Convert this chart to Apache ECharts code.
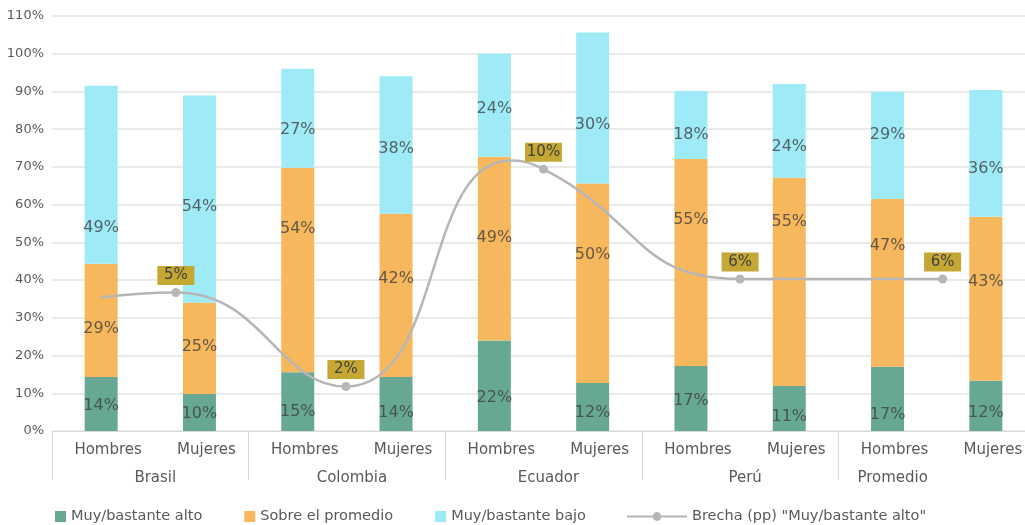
<!DOCTYPE html>
<html>
<head>
<meta charset="utf-8">
<script src="https://cdn.jsdelivr.net/npm/echarts@6/dist/echarts.min.js"></script>
<style>
  html, body { margin: 0; padding: 0; background: #fff; overflow: hidden; }
  /* el área de trazado sigue más allá del borde derecho, como en el original */
  #chart { width: 1035px; height: 525px; }
</style>
</head>
<body>
<div id="chart"></div>
<script>
// categorías (dos niveles)
const categories = ['Hombres', 'Mujeres', 'Hombres', 'Mujeres', 'Hombres', 'Mujeres', 'Hombres', 'Mujeres', 'Hombres', 'Mujeres'];
const countries = ['Brasil', 'Colombia', 'Ecuador', 'Perú', 'Promedio'];

// alturas de los segmentos (%)
const altoVals = [14.3, 9.8, 15.6, 14.3, 24.0, 12.7, 17.2, 11.9, 17.0, 13.3];
const sobreVals = [30.0, 24.2, 54.2, 43.3, 48.7, 52.9, 54.9, 55.2, 44.5, 43.5];
const bajoVals = [47.2, 54.9, 26.2, 36.4, 27.3, 40.0, 18.0, 24.9, 28.4, 33.6];

// etiquetas mostradas y dónde aparecen (en % del eje)
const altoPct = [14, 10, 15, 14, 22, 12, 17, 11, 17, 12];
const sobrePct = [29, 25, 54, 42, 49, 50, 55, 55, 47, 43];
const bajoPct = [49, 54, 27, 38, 24, 30, 18, 24, 29, 36];
const altoLabelY = [6.7, 4.5, 5.1, 4.7, 8.7, 4.7, 8.0, 3.8, 4.4, 4.7];
const sobreLabelY = [27.0, 22.4, 53.6, 40.3, 51.3, 46.7, 56.0, 55.5, 49.0, 39.6];
const bajoLabelY = [53.8, 59.5, 79.8, 74.8, 85.3, 81.2, 78.5, 75.4, 78.5, 69.5];

// brecha (línea suavizada); x en unidades de categoría
const brechaX = [0, 0.76, 2.49, 4.16, 4.5, 6.5, 8.56];
const brechaY = [35.4, 36.7, 11.8, 71.7, 69.4, 40.3, 40.3];
const brechaText = ['', '5%', '2%', '', '10%', '6%', '6%'];

const yTicks = { min: 0, max: 110, interval: 10 };

const FONT = 'DejaVu Sans';
const GREEN = '#67a894';
const ORANGE = '#f7b75c';
const CYAN = '#9eebf7';
const GRAY_LINE = '#b6b6b6';
const LABEL_BG = '#c5a734';
const TXT = '#595959';

const names = ['Muy/bastante alto', 'Sobre el promedio', 'Muy/bastante bajo', 'Brecha (pp) "Muy/bastante alto"'];

const chart = echarts.init(document.getElementById('chart'));

const barSeries = (name, data, color) => ({
  name,
  type: 'bar',
  stack: 'total',
  data,
  barWidth: 33,
  itemStyle: { color },
  emphasis: { disabled: true },
  xAxisIndex: 0,
  yAxisIndex: 0
});

const labelSeries = (pct, ys) => ({
  type: 'scatter',
  xAxisIndex: 0,
  yAxisIndex: 0,
  symbolSize: 0,
  silent: true,
  z: 5,
  data: ys.map((y, i) => [i, y, pct[i]]),
  label: {
    show: true,
    position: 'inside',
    formatter: (p) => p.value[2] + '%',
    color: '#404040',
    fontSize: 16,
    fontFamily: FONT
  }
});

const brechaData = brechaX.map((x, i) => {
  const t = brechaText[i];
  return {
    value: [x, brechaY[i], t],
    symbol: t ? 'circle' : 'none',
    label: { show: !!t }
  };
});

const legendText = { color: TXT, fontSize: 14.5, fontFamily: FONT };

const option = {
  animation: false,
  textStyle: { fontFamily: FONT },
  grid: { left: 52, top: 16, right: 0, bottom: 94 },
  legend: [
    {
      data: names.slice(0, 3),
      left: 55,
      top: 509,
      padding: 0,
      icon: 'rect',
      itemWidth: 11,
      itemHeight: 11,
      itemGap: 42,
      textStyle: legendText
    },
    {
      data: [names[3]],
      left: 626,
      top: 509,
      padding: 0,
      itemWidth: 60,
      itemHeight: 11,
      textStyle: legendText
    }
  ],
  xAxis: [
    {
      type: 'category',
      data: categories,
      position: 'bottom',
      axisLine: { lineStyle: { color: '#d9d9d9', width: 1 } },
      axisTick: { show: false },
      axisLabel: { color: TXT, fontSize: 15, fontFamily: FONT, margin: 12, padding: [0, 0, 0, 14] }
    },
    {
      type: 'category',
      data: countries,
      position: 'bottom',
      offset: 0,
      axisLine: { show: false },
      axisTick: { show: true, length: 49, lineStyle: { color: '#d9d9d9' } },
      axisLabel: {
        color: TXT,
        fontSize: 15,
        fontFamily: FONT,
        margin: 40,
        padding: [0, 0, 0, 10],
        // la última etiqueta queda centrada en la parte visible del grupo
        formatter: (v, i) => (i === countries.length - 1 ? '{last|' + v + '}' : v),
        rich: { last: { color: TXT, fontSize: 15, fontFamily: FONT, padding: [0, 98, 0, 0] } }
      }
    },
    {
      type: 'value',
      min: -0.5,
      max: 9.5,
      show: false
    }
  ],
  yAxis: {
    type: 'value',
    min: yTicks.min,
    max: yTicks.max,
    interval: yTicks.interval,
    axisLine: { show: false },
    axisTick: { show: false },
    splitLine: { lineStyle: { color: '#e3e3e3', width: 1.5 } },
    axisLabel: {
      formatter: '{value}%',
      color: TXT,
      fontSize: 13,
      fontFamily: FONT,
      margin: 8
    }
  },
  series: [
    barSeries(names[0], altoVals, GREEN),
    barSeries(names[1], sobreVals, ORANGE),
    barSeries(names[2], bajoVals, CYAN),
    labelSeries(altoPct, altoLabelY),
    labelSeries(sobrePct, sobreLabelY),
    labelSeries(bajoPct, bajoLabelY),
    {
      name: names[3],
      type: 'line',
      xAxisIndex: 2,
      yAxisIndex: 0,
      smooth: 0.5,
      z: 4,
      data: brechaData,
      symbol: 'circle',
      symbolSize: 9,
      lineStyle: { color: GRAY_LINE, width: 2.5 },
      itemStyle: { color: GRAY_LINE },
      emphasis: { disabled: true },
      label: {
        position: 'top',
        distance: 3,
        formatter: (p) => p.value[2],
        backgroundColor: LABEL_BG,
        color: '#404040',
        fontSize: 15,
        fontFamily: FONT,
        width: 37,
        height: 19,
        lineHeight: 19,
        align: 'center'
      }
    }
  ]
};

chart.setOption(option);
</script>
</body>
</html>
